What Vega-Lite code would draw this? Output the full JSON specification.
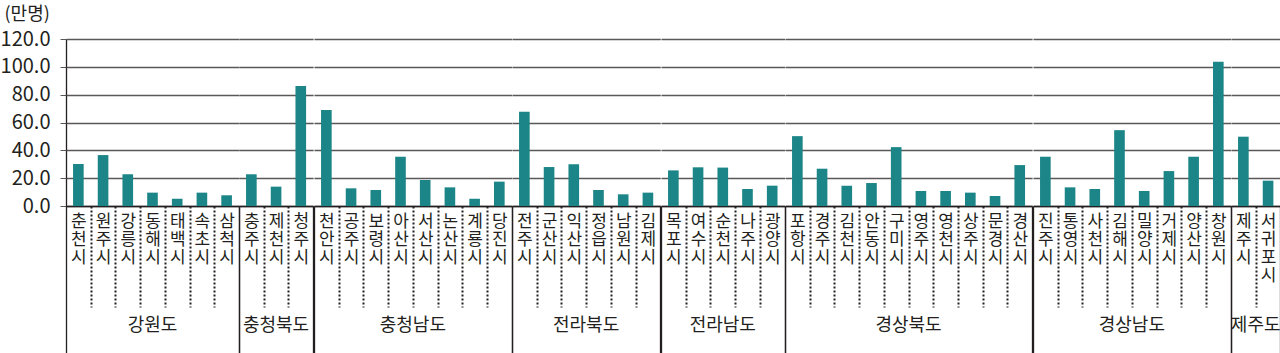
{
  "$schema": "https://vega.github.io/schema/vega-lite/v6.json",
  "padding": {"left": 0, "top": 5, "right": 0, "bottom": 0},
  "bounds": "flush",
  "data": {"values": [
    {"province": "강원도", "city": "춘천시", "value": 30.2},
    {"province": "강원도", "city": "원주시", "value": 36.6},
    {"province": "강원도", "city": "강릉시", "value": 22.8},
    {"province": "강원도", "city": "동해시", "value": 9.6},
    {"province": "강원도", "city": "태백시", "value": 5.2},
    {"province": "강원도", "city": "속초시", "value": 9.6},
    {"province": "강원도", "city": "삼척시", "value": 7.7},
    {"province": "충청북도", "city": "충주시", "value": 22.8},
    {"province": "충청북도", "city": "제천시", "value": 13.9},
    {"province": "충청북도", "city": "청주시", "value": 86.2},
    {"province": "충청남도", "city": "천안시", "value": 69.0},
    {"province": "충청남도", "city": "공주시", "value": 12.7},
    {"province": "충청남도", "city": "보령시", "value": 11.5},
    {"province": "충청남도", "city": "아산시", "value": 35.4},
    {"province": "충청남도", "city": "서산시", "value": 18.7},
    {"province": "충청남도", "city": "논산시", "value": 13.4},
    {"province": "충청남도", "city": "계룡시", "value": 5.2},
    {"province": "충청남도", "city": "당진시", "value": 17.5},
    {"province": "전라북도", "city": "전주시", "value": 67.8},
    {"province": "전라북도", "city": "군산시", "value": 28.0},
    {"province": "전라북도", "city": "익산시", "value": 30.0},
    {"province": "전라북도", "city": "정읍시", "value": 11.5},
    {"province": "전라북도", "city": "남원시", "value": 8.4},
    {"province": "전라북도", "city": "김제시", "value": 9.6},
    {"province": "전라남도", "city": "목포시", "value": 25.6},
    {"province": "전라남도", "city": "여수시", "value": 27.8},
    {"province": "전라남도", "city": "순천시", "value": 27.6},
    {"province": "전라남도", "city": "나주시", "value": 12.2},
    {"province": "전라남도", "city": "광양시", "value": 14.6},
    {"province": "경상북도", "city": "포항시", "value": 50.2},
    {"province": "경상북도", "city": "경주시", "value": 26.8},
    {"province": "경상북도", "city": "김천시", "value": 14.6},
    {"province": "경상북도", "city": "안동시", "value": 16.5},
    {"province": "경상북도", "city": "구미시", "value": 42.3},
    {"province": "경상북도", "city": "영주시", "value": 10.8},
    {"province": "경상북도", "city": "영천시", "value": 10.8},
    {"province": "경상북도", "city": "상주시", "value": 9.6},
    {"province": "경상북도", "city": "문경시", "value": 7.2},
    {"province": "경상북도", "city": "경산시", "value": 29.4},
    {"province": "경상남도", "city": "진주시", "value": 35.4},
    {"province": "경상남도", "city": "통영시", "value": 13.4},
    {"province": "경상남도", "city": "사천시", "value": 12.2},
    {"province": "경상남도", "city": "김해시", "value": 54.5},
    {"province": "경상남도", "city": "밀양시", "value": 10.8},
    {"province": "경상남도", "city": "거제시", "value": 25.1},
    {"province": "경상남도", "city": "양산시", "value": 35.4},
    {"province": "경상남도", "city": "창원시", "value": 103.6},
    {"province": "제주도", "city": "제주시", "value": 49.8},
    {"province": "제주도", "city": "서귀포시", "value": 18.2}
  ]},
  "facet": {
    "column": {
      "field": "province",
      "type": "nominal",
      "sort": ["강원도", "충청북도", "충청남도", "전라북도", "전라남도", "경상북도", "경상남도", "제주도"],
      "title": null,
      "header": {
        "labelOrient": "bottom",
        "labelFont": "Noto Sans CJK KR",
        "labelFontSize": 18,
        "labelColor": "#231f20",
        "labelPadding": 111
      }
    }
  },
  "spacing": 0,
  "spec": {
    "width": {"step": 24.71},
    "height": 167,
    "mark": {"type": "bar", "color": "#1b8587", "width": {"band": 0.43}},
    "encoding": {
      "x": {
        "field": "city",
        "type": "nominal",
        "sort": null,
        "scale": {"paddingInner": 0, "paddingOuter": 0},
        "axis": {
          "title": null,
          "labelAngle": 0,
          "labelExpr": "split(datum.label, '')",
          "labelFont": "Noto Sans CJK KR",
          "labelFontSize": 17,
          "labelLineHeight": 18,
          "labelBaseline": "top",
          "labelPadding": {"condition": {"test": "datum.extra || indexof(['삼척시','청주시','당진시','김제시','광양시','경산시','창원시','서귀포시'], datum.value) >= 0", "value": -140}, "value": -94},
          "labelOverlap": false,
          "labelColor": "#231f20",
          "tickBand": "extent",
          "tickColor": "#231f20",
          "tickSize": {"condition": {"test": "datum.extra || indexof(['삼척시','청주시','당진시','김제시','광양시','경산시','창원시','서귀포시'], datum.value) >= 0", "value": 147}, "value": 101},
          "tickDash": {"condition": {"test": "datum.extra || indexof(['삼척시','청주시','당진시','김제시','광양시','경산시','창원시','서귀포시'], datum.value) >= 0", "value": [1, 0]}, "value": [2, 2]},
          "tickWidth": {"condition": {"test": "datum.extra || indexof(['삼척시','청주시','당진시','김제시','광양시','경산시','창원시','서귀포시'], datum.value) >= 0", "value": 1.3}, "value": 2},
          "domainColor": "#231f20",
          "domainWidth": 1.3
        }
      },
      "y": {
        "field": "value",
        "type": "quantitative",
        "scale": {"domain": [0, 120]},
        "axis": {
          "title": "(만명)",
          "titleAngle": 0,
          "titleAlign": "left",
          "titleBaseline": "middle",
          "titleX": -62,
          "titleY": -25,
          "titleFont": "Noto Sans CJK KR",
          "titleFontSize": 18,
          "titleFontWeight": "normal",
          "titleColor": "#231f20",
          "values": [0, 20, 40, 60, 80, 100, 120],
          "format": ".1f",
          "labelFont": "Noto Sans CJK KR",
          "labelFontSize": 20,
          "labelColor": "#231f20",
          "labelPadding": 10,
          "tickSize": 6,
          "tickColor": "#595757",
          "domainColor": "#231f20",
          "domainWidth": 1.3,
          "grid": true,
          "gridColor": "#595757",
          "gridWidth": 1.3
        }
      }
    }
  },
  "resolve": {"scale": {"x": "independent"}},
  "config": {"view": {"stroke": null}}
}
